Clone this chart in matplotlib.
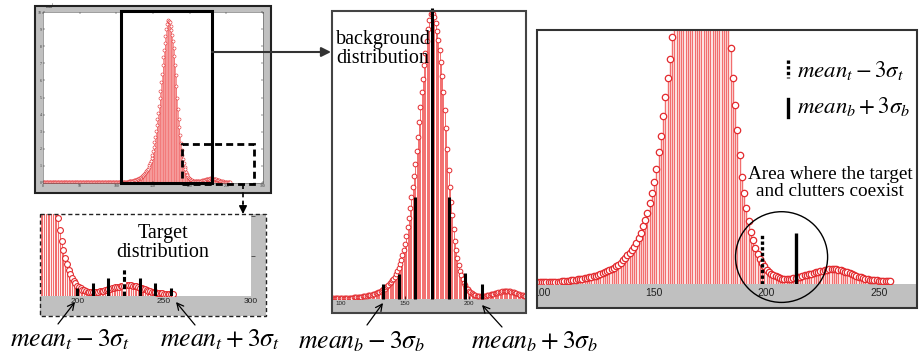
import matplotlib
matplotlib.use('Agg')
import matplotlib.pyplot as plt
from matplotlib.patches import Rectangle, Ellipse
import numpy as np

plt.rcParams['mathtext.fontset'] = 'stix'
plt.rcParams['font.family'] = ['Liberation Serif', 'DejaVu Serif']

W, H = 921, 360

# gray-level histogram (x1e4), one value per level 0..255
counts = [
    0.03, 0.03, 0.03, 0.03, 0.03, 0.03, 0.03, 0.03, 0.03, 0.03,
    0.03, 0.03, 0.03, 0.03, 0.03, 0.03, 0.03, 0.03, 0.03, 0.03,
    0.03, 0.03, 0.03, 0.03, 0.03, 0.03, 0.03, 0.03, 0.03, 0.03,
    0.03, 0.03, 0.03, 0.03, 0.03, 0.03, 0.03, 0.03, 0.03, 0.03,
    0.03, 0.03, 0.03, 0.03, 0.03, 0.03, 0.03, 0.03, 0.03, 0.03,
    0.03, 0.03, 0.03, 0.03, 0.03, 0.03, 0.03, 0.03, 0.03, 0.03,
    0.03, 0.03, 0.03, 0.03, 0.03, 0.03, 0.03, 0.03, 0.03, 0.03,
    0.03, 0.03, 0.03, 0.03, 0.03, 0.03, 0.03, 0.03, 0.03, 0.03,
    0.03, 0.03, 0.03, 0.03, 0.03, 0.03, 0.03, 0.03, 0.03, 0.03,
    0.03, 0.03, 0.03, 0.03, 0.03, 0.03, 0.03, 0.03, 0.03, 0.03,
    0.03, 0.03, 0.032, 0.033, 0.035, 0.037, 0.04, 0.042, 0.045, 0.048,
    0.052, 0.056, 0.06, 0.065, 0.07, 0.076, 0.082, 0.088, 0.095, 0.103,
    0.11, 0.12, 0.13, 0.14, 0.15, 0.165, 0.18, 0.195, 0.21, 0.23,
    0.25, 0.27, 0.29, 0.32, 0.35, 0.39, 0.43, 0.47, 0.52, 0.57,
    0.62, 0.68, 0.74, 0.84, 0.92, 1.05, 1.17, 1.3, 1.48, 1.65,
    1.85, 2.1, 2.4, 2.7, 3.05, 3.4, 3.75, 4.1, 4.5, 4.95,
    5.4, 5.9, 6.4, 6.9, 7.35, 7.8, 8.2, 8.6, 9.0, 9.3,
    9.5, 9.55, 9.5, 9.4, 9.2, 8.95, 8.65, 8.3, 7.9, 7.45,
    6.9, 6.3, 5.7, 5.0, 4.3, 3.75, 3.25, 2.8, 2.35, 1.95,
    1.65, 1.38, 1.15, 0.95, 0.8, 0.66, 0.55, 0.46, 0.38, 0.32,
    0.26, 0.22, 0.19, 0.16, 0.14, 0.12, 0.11, 0.1, 0.095, 0.09,
    0.095, 0.1, 0.105, 0.115, 0.125, 0.135, 0.145, 0.155, 0.165, 0.18,
    0.19, 0.2, 0.215, 0.225, 0.235, 0.245, 0.255, 0.26, 0.265, 0.27,
    0.27, 0.265, 0.26, 0.25, 0.24, 0.225, 0.21, 0.195, 0.18, 0.165,
    0.15, 0.135, 0.125, 0.11, 0.1, 0.09, 0.08, 0.075, 0.07, 0.065,
    0.06, 0.058, 0.055, 0.053, 0.052, 0.055,
]
levels = np.arange(len(counts))

# background marks (mean_b +- k*sigma_b) and target marks (mean_t +- k*sigma_t)
bg_marks = [133, 145, 158, 171, 184, 197, 210]
bg_heights = [0.5, 0.83, 3.4, 9.7, 3.4, 0.87, 0.5]
tg_marks = [200, 209, 218, 227, 236, 245, 254]
tg_heights = [0.2, 0.33, 0.45, 0.65, 0.45, 0.33, 0.2]
# right panel: mean_t - 3 sigma_t (dotted) and mean_b + 3 sigma_b (solid)
tg_low, tg_low_h = 198, 0.91
bg_high, bg_high_h = 213, 0.93

fig = plt.figure(figsize=(W / 100, H / 100), dpi=100)


def px_axes(x0, y0, x1, y1, z=1):
    return fig.add_axes([x0 / W, 1 - y1 / H, (x1 - x0) / W, (y1 - y0) / H], zorder=z)


def pixel_layer(z):
    ax = px_axes(0, 0, W, H, z)
    ax.set_xlim(0, W)
    ax.set_ylim(H, 0)
    ax.axis('off')
    return ax


under = pixel_layer(0)
over = pixel_layer(5)

GRAY = '#c0c0c0'


def draw_hist(ax, ms, lw, mew):
    ax.vlines(levels, 0, counts, color='#f26e6e', lw=lw, zorder=1)
    ax.plot(levels, counts, 'o', ms=ms, mfc='white', mec='#e32a2e', mew=mew, zorder=2)


def plain(ax, size, ticks):
    for s in ax.spines.values():
        s.set_visible(False)
    ax.set_xticks(ticks)
    ax.set_yticks([])
    ax.tick_params(axis='x', labelsize=size, labelcolor='#222', pad=1.5,
                   direction='in', length=2, width=0.5)
    for lbl in ax.get_xticklabels():
        lbl.set_fontfamily('Liberation Sans')


# ---- top-left overview ----
under.add_patch(Rectangle((35, 6), 236, 187, fc=GRAY, ec='none'))
over.add_patch(Rectangle((35, 6), 236, 187, fill=False, ec='#222', lw=1.5))
axA = px_axes(43, 12, 263, 183)
draw_hist(axA, 2.2, 0.5, 0.4)
axA.set_xlim(0, 300)
axA.set_ylim(0, 10)
axA.set_xticks(range(0, 301, 50))
axA.set_yticks(range(0, 11))
axA.tick_params(labelsize=2.8, direction='in', length=1.5, width=0.3, pad=1,
                top=True, right=True, labelcolor='#333')
for s in axA.spines.values():
    s.set_linewidth(0.4)
    s.set_color('#555')
axA.text(0.01, 1.0, r'x 10$^4$', transform=axA.transAxes, fontsize=2.6,
         va='bottom', family='Liberation Sans')
axA.add_patch(Rectangle((106, 0), 124, 10.06, fill=False, ec='black', lw=2.2, clip_on=False, zorder=4))
axA.add_patch(Rectangle((190, -0.06), 98, 2.34, fill=False, ec='black', lw=2.0,
                        ls=(0, (2.5, 1.5)), clip_on=False, zorder=4))

# ---- bottom-left: target zoom ----
under.add_patch(Rectangle((40, 214), 226, 102, fc=GRAY, ec='none'))
over.add_patch(Rectangle((40, 214), 226, 102, fill=False, ec='#222', lw=1.0, ls=(0, (3, 2))))
axB = px_axes(40, 214, 251, 296)
draw_hist(axB, 4.2, 0.8, 0.8)
axB.set_xlim(178.6, 300)
axB.set_ylim(0, 2.05)
plain(axB, 6, [200, 250, 300])
axB.tick_params(axis='x', length=0)
axB.yaxis.tick_right()
axB.set_yticks([1, 2])
axB.tick_params(axis='y', labelright=False, length=3, width=0.6, direction='out', color='#444')
axB.vlines(tg_marks, 0, tg_heights, color='black', lw=2.2, zorder=3)
axB.vlines([tg_marks[3]], 0, [tg_heights[3]], color='white', lw=2.4, zorder=3)
axB.vlines([tg_marks[3]], 0, [tg_heights[3]], color='black', lw=2.2,
           linestyles=[(0, (1.6, 0.8))], zorder=3)
over.text(163, 243, 'Target\ndistribution', ha='center', va='center', fontsize=14.5, linespacing=1.05)

# ---- middle: background zoom ----
under.add_patch(Rectangle((332, 11), 194, 302, fc=GRAY, ec='none'))
over.add_patch(Rectangle((332, 11), 194, 302, fill=False, ec='#444', lw=1.5))
axC = px_axes(332, 11, 526, 299)
draw_hist(axC, 3.4, 0.7, 0.7)
axC.set_xlim(93, 244.5)
axC.set_ylim(0, 9.6)
plain(axC, 4.5, [100, 150, 200])
axC.vlines(bg_marks, 0, bg_heights, color='black', lw=2.2, zorder=3, clip_on=False)
over.text(336, 49, 'background\ndistribution', ha='left', va='center', fontsize=14.5, linespacing=1.05)

# ---- right: overlap zoom ----
under.add_patch(Rectangle((537, 30), 380, 278, fc=GRAY, ec='none'))
over.add_patch(Rectangle((537, 30), 380, 278, fill=False, ec='#333', lw=1.5))
axD = px_axes(537, 30, 917, 284)
draw_hist(axD, 4.6, 1.0, 0.9)
axD.set_xlim(97.8, 267)
axD.set_ylim(0, 4.62)
plain(axD, 7.5, [100, 150, 200, 250])
axD.tick_params(axis='x', length=0, pad=3)
clip = Rectangle((537, 30), 380, 278, transform=over.transData)
axD.get_xticklabels()[0].set_clip_path(clip)
axD.vlines([tg_low], 0, [tg_low_h], color='black', lw=2.4, linestyles=[(0, (1, 0.7))], zorder=3)
axD.vlines([bg_high], 0, [bg_high_h], color='black', lw=2.4, zorder=3)
axD.add_patch(Ellipse((206.7, 0.49), 41, 1.65, fill=False, ec='black', lw=1.0, clip_on=False, zorder=4))

over.plot([788, 788], [60, 78], color='black', lw=2.4, ls=(0, (1, 0.7)))
over.plot([788, 788], [99, 117], color='black', lw=2.4)
over.text(797, 70, r'$mean_t - 3\sigma_t$', ha='left', va='center', fontsize=16.5)
over.text(797, 106, r'$mean_b + 3\sigma_b$', ha='left', va='center', fontsize=16.5)
over.text(830, 183, 'Area where the target\nand clutters coexist', ha='center', va='center',
          fontsize=13.8, linespacing=1.0)

# ---- connectors ----
over.annotate('', xy=(331, 52), xytext=(212, 52),
              arrowprops=dict(arrowstyle='-|>', lw=1.5, color='#333', mutation_scale=14, shrinkA=0, shrinkB=0))
over.plot([243, 243], [184, 204], color='black', lw=1.2, ls=(0, (3, 2)))
over.annotate('', xy=(243, 214), xytext=(243, 203),
              arrowprops=dict(arrowstyle='-|>', lw=1.0, color='black', mutation_scale=12, shrinkA=0, shrinkB=0))

# ---- bottom labels ----
labels = [
    (70, 340, r'$mean_t - 3\sigma_t$', (58, 324), (75, 302)),
    (220, 340, r'$mean_t + 3\sigma_t$', (195, 325), (176, 302)),
    (362, 342, r'$mean_b - 3\sigma_b$', (367, 325), (383, 303)),
    (535, 342, r'$mean_b + 3\sigma_b$', (502, 327), (482, 305)),
]
for tx, ty, s, p0, p1 in labels:
    over.text(tx, ty, s, ha='center', va='center', fontsize=18.5)
    over.annotate('', xy=p1, xytext=p0,
                  arrowprops=dict(arrowstyle='->', lw=0.9, color='black', mutation_scale=12, shrinkA=0, shrinkB=0))

fig.savefig('out.png', dpi=100)
